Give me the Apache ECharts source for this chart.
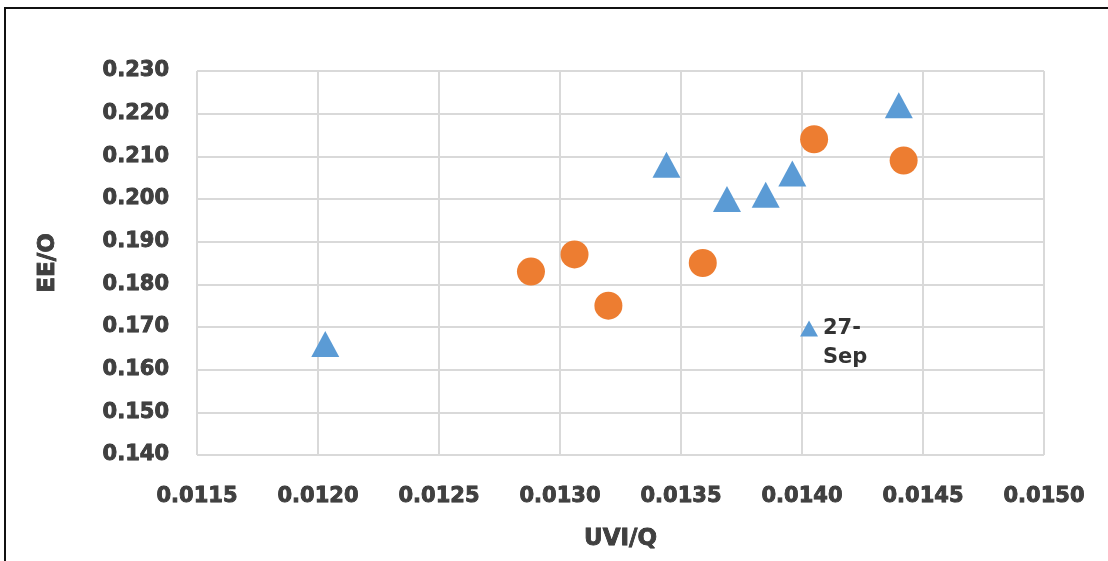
<!DOCTYPE html>
<html>
<head>
<meta charset="utf-8">
<script src="https://cdn.jsdelivr.net/npm/echarts@6/dist/echarts.min.js"></script>
<style>
  html, body { margin: 0; padding: 0; background: #fff; overflow: hidden; }
  #frame { position: absolute; left: 4px; top: 7px; width: 1300px; height: 800px; border: 2px solid #111; box-sizing: border-box; }
  #chart { position: absolute; left: 0; top: 0; width: 1108px; height: 561px; }
</style>
</head>
<body>
<div id="frame"></div>
<div id="chart"></div>
<script>
// UVI/Q vs EE/O samples
const sep27X = [0.01203, 0.01344, 0.01369, 0.01385, 0.01396, 0.01440];
const sep27Y = [0.166, 0.208, 0.200, 0.201, 0.206, 0.222];
const otherX = [0.01288, 0.01306, 0.01320, 0.01359, 0.01405, 0.01442];
const otherY = [0.183, 0.187, 0.175, 0.185, 0.214, 0.209];

const xName = 'UVI/Q';
const yName = 'EE/O';
const sep27Name = '27-Sep';
const otherName = 'Other dates';

const pairs = (xs, ys) => xs.map((x, i) => [x, ys[i]]);

const labelFont = {
  fontFamily: 'DejaVu Sans',
  fontWeight: 'bold',
  fontSize: 21,
  color: '#404040',
  textBorderColor: '#222',
  textBorderWidth: 0.8
};

const chart = echarts.init(document.getElementById('chart'), null, { renderer: 'canvas' });
chart.setOption({
  animation: false,
  grid: { left: 197, right: 64, top: 71, bottom: 106 },
  legend: {
    data: [{ name: sep27Name, icon: 'triangle' }],
    left: 795,
    top: 280,
    itemWidth: 18,
    itemHeight: 16,
    itemGap: 6,
    selectedMode: false,
    // leading blank line keeps the first text line level with the icon
    formatter: n => '\n' + n.replace('-', '-\n'),
    textStyle: {
      fontFamily: 'DejaVu Sans',
      fontWeight: 'bold',
      fontSize: 21,
      color: '#333',
      lineHeight: 29
    }
  },
  xAxis: {
    type: 'value',
    min: 0.0115,
    max: 0.0150,
    interval: 0.0005,
    name: xName,
    nameLocation: 'middle',
    nameGap: 73,
    nameTextStyle: Object.assign({}, labelFont, { fontSize: 23 }),
    axisLine: { show: false },
    axisTick: { show: false },
    axisLabel: Object.assign({ margin: 31, formatter: v => v.toFixed(4) }, labelFont),
    splitLine: { show: true, lineStyle: { color: '#d9d9d9', width: 2 } }
  },
  yAxis: {
    type: 'value',
    min: 0.14,
    max: 0.23,
    interval: 0.01,
    name: yName,
    nameLocation: 'middle',
    nameGap: 137,
    nameTextStyle: Object.assign({}, labelFont, { fontSize: 23 }),
    axisLine: { show: false },
    axisTick: { show: false },
    axisLabel: Object.assign({ margin: 28, formatter: v => v.toFixed(3) }, labelFont),
    splitLine: { show: true, lineStyle: { color: '#d9d9d9', width: 2 } }
  },
  series: [
    {
      name: sep27Name,
      type: 'scatter',
      symbol: 'triangle',
      symbolSize: [28, 26],
      itemStyle: { color: '#5b9bd5', opacity: 1 },
      data: pairs(sep27X, sep27Y),
      z: 3
    },
    {
      name: otherName,
      type: 'scatter',
      symbol: 'circle',
      symbolSize: 28,
      itemStyle: { color: '#ed7d31', opacity: 1 },
      data: pairs(otherX, otherY),
      z: 3
    }
  ]
});
</script>
</body>
</html>
